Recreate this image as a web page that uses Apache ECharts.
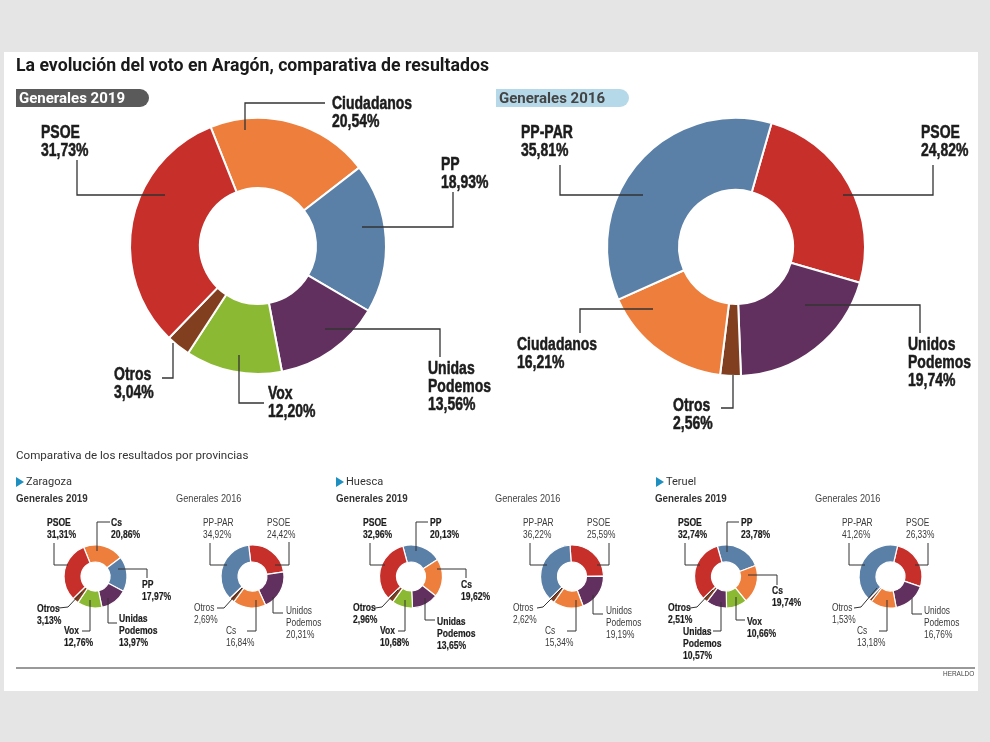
<!DOCTYPE html>
<html>
<head>
<meta charset="utf-8">
<style>
html, body { margin: 0; padding: 0; background: #e5e5e5; }
#main { width: 990px; height: 742px; }
</style>
<script src="https://cdn.jsdelivr.net/npm/echarts@6/dist/echarts.min.js"></script>
</head>
<body>
<div id="main"></div>
<script>
// datos, en el orden de las agujas del reloj
const names2019 = ['Ciudadanos', 'PP', 'Unidas\nPodemos', 'Vox', 'Otros', 'PSOE']
const values2019 = [20.54, 18.93, 13.56, 12.20, 3.04, 31.73]
const names2016 = ['PSOE', 'Unidos\nPodemos', 'Otros', 'Ciudadanos', 'PP-PAR']
const values2016 = [24.82, 19.74, 2.56, 16.21, 35.81]

const namesZar2019 = ['Cs', 'PP', 'Unidas\nPodemos', 'Vox', 'Otros', 'PSOE']
const valuesZar2019 = [20.86, 17.97, 13.97, 12.76, 3.13, 31.31]
const namesSmall2016 = ['PSOE', 'Unidos\nPodemos', 'Cs', 'Otros', 'PP-PAR']
const valuesZar2016 = [24.42, 20.31, 16.84, 2.69, 34.92]

const namesHue2019 = ['PP', 'Cs', 'Unidas\nPodemos', 'Vox', 'Otros', 'PSOE']
const valuesHue2019 = [20.13, 19.62, 13.65, 10.68, 2.96, 32.96]
const valuesHue2016 = [25.59, 19.19, 15.34, 2.62, 36.22]

const namesTer2019 = ['PP', 'Cs', 'Vox', 'Unidas\nPodemos', 'Otros', 'PSOE']
const valuesTer2019 = [23.78, 19.74, 10.66, 10.57, 2.51, 32.74]
const valuesTer2016 = [26.33, 16.76, 13.18, 1.53, 41.26]

const partyColors = {
    'PSOE': '#c72f2b', 'PP': '#5b80a8', 'PP-PAR': '#5b80a8', 'Ciudadanos': '#ee7e3c', 'Cs': '#ee7e3c',
    'Unidas\nPodemos': '#62305e', 'Unidos\nPodemos': '#62305e', 'Vox': '#8cb933', 'Otros': '#823f1f'
}

// cada tarta: centro, radios, angulo inicial, etiquetas [x,y] y lineas guia
const charts = [
    { names: names2019, values: values2019, c: [258, 246], r: [58, 128], start: 111.7, big: true, bold: true,
      labels: [[332, 95], [441, 156], [428, 360], [268, 385], [114, 366], [41, 124]],
      lines: [[[245, 130], [245, 103], [325, 103]], [[362, 227], [453, 227], [453, 192]], [[325, 329], [440, 329], [440, 357]],
              [[239, 355], [239, 403], [264, 403]], [[173, 343], [173, 378], [162, 378]], [[77, 160], [77, 195], [165, 195]]] },
    { names: names2016, values: values2016, c: [736, 247], r: [57, 129], start: 74, big: true, bold: true,
      labels: [[921, 124], [908, 336], [673, 397], [517, 336], [521, 124]],
      lines: [[[933, 165], [933, 195], [843, 195]], [[805, 305], [920, 305], [920, 333]], [[733, 375], [733, 408], [721, 408]],
              [[653, 309], [580, 309], [580, 333]], [[560, 165], [560, 195], [643, 195]]] },

    { names: namesZar2019, values: valuesZar2019, c: [95.5, 576.5], r: [14.5, 31.5], start: 112, bold: true,
      labels: [[111, 517], [142, 579], [119, 613], [64, 625], [37, 603], [47, 517]],
      lines: [[[97, 551], [97, 522], [110, 522]], [[118, 569], [147, 569], [147, 578]], [[108, 598], [108, 623], [117, 623]],
              [[90, 600], [90, 631], [82, 631]], [[82, 592], [68, 607], [59, 608]], [[54, 543], [54, 565], [68, 565]]] },
    { names: namesSmall2016, values: valuesZar2016, c: [252.5, 576.5], r: [14.5, 31.5], start: 97,
      labels: [[267, 517], [286, 605], [226, 625], [194, 602], [203, 517]],
      lines: [[[289, 542], [289, 565], [275, 565]], [[273, 597], [273, 613], [283, 613]], [[256, 600], [256, 631], [247, 631]],
              [[242, 588], [224, 608], [217, 608]], [[210, 543], [210, 565], [227, 565]]] },

    { names: namesHue2019, values: valuesHue2019, c: [411, 576.5], r: [14.5, 31.5], start: 105, bold: true,
      labels: [[430, 517], [461, 579], [437, 616], [380, 625], [353, 602], [363, 517]],
      lines: [[[416, 551], [416, 522], [428, 522]], [[437, 569], [466, 569], [466, 578]], [[425, 598], [425, 620], [435, 620]],
              [[405, 600], [405, 631], [398, 631]], [[398, 590], [382, 607], [375, 608]], [[370, 543], [370, 565], [385, 565]]] },
    { names: namesSmall2016, values: valuesHue2016, c: [572, 576.5], r: [14.5, 31.5], start: 93.6,
      labels: [[587, 517], [606, 605], [545, 625], [513, 602], [523, 517]],
      lines: [[[609, 543], [609, 565], [597, 565]], [[593, 595], [593, 614], [603, 614]], [[576, 600], [576, 631], [567, 631]],
              [[562, 588], [543, 607], [537, 608]], [[530, 543], [530, 565], [547, 565]]] },

    { names: namesTer2019, values: valuesTer2019, c: [726, 576.5], r: [14.5, 31.5], start: 106, bold: true,
      labels: [[741, 517], [772, 585], [747, 616], [683, 626], [668, 602], [678, 517]],
      lines: [[[727, 552], [727, 522], [739, 522]], [[748, 575], [777, 575], [777, 585]], [[736, 597], [736, 620], [745, 620]],
              [[721, 602], [721, 631], [713, 631]], [[713, 590], [697, 607], [690, 608]], [[685, 543], [685, 565], [700, 565]]] },
    { names: namesSmall2016, values: valuesTer2016, c: [890.5, 576.5], r: [14.5, 31.5], start: 77,
      labels: [[906, 517], [924, 605], [857, 625], [832, 602], [842, 517]],
      lines: [[[928, 543], [928, 565], [915, 565]], [[912, 598], [912, 614], [922, 614]], [[887, 600], [887, 631], [879, 631]],
              [[877, 588], [861, 607], [854, 608]], [[849, 543], [849, 565], [865, 565]]] }
]

const fmt = v => v.toFixed(2).replace('.', ',')
const sans = '"Liberation Sans", sans-serif'

const series = charts.map(ch => ({
    type: 'pie',
    center: ch.c,
    radius: ch.r,
    startAngle: ch.start,
    silent: true,
    itemStyle: { borderColor: '#fff', borderWidth: ch.big ? 2 : 1.2 },
    label: { show: false },
    labelLine: { show: false },
    data: ch.names.map((n, i) => ({ name: n, value: ch.values[i], itemStyle: { color: partyColors[n] } }))
}))

// no hay fuente estrecha instalada: se estrecha con scaleX
const text = (x, y, str, font, color, sx) => ({
    type: 'text', x, y, z: 10, silent: true, scaleX: sx || 1,
    style: { text: str, font, fill: color || '#222', verticalAlign: 'middle' }
})

const graphic = [
    { type: 'rect', z: -1, silent: true, shape: { x: 4, y: 52, width: 974, height: 639 }, style: { fill: '#fff' } },
    { type: 'rect', z: 1, silent: true, shape: { x: 16, y: 89, width: 133, height: 18, r: [0, 9, 9, 0] }, style: { fill: '#5a5a5a' } },
    { type: 'rect', z: 1, silent: true, shape: { x: 496, y: 89, width: 133, height: 18, r: [0, 9, 9, 0] }, style: { fill: '#b6d9ea' } },
    { type: 'line', z: 1, silent: true, shape: { x1: 16, y1: 668, x2: 975, y2: 668 }, style: { stroke: '#999', lineWidth: 2 } },
    { type: 'polygon', z: 1, silent: true, shape: { points: [[16, 477], [24, 482], [16, 487]] }, style: { fill: '#1d8fc0' } },
    { type: 'polygon', z: 1, silent: true, shape: { points: [[336, 477], [344, 482], [336, 487]] }, style: { fill: '#1d8fc0' } },
    { type: 'polygon', z: 1, silent: true, shape: { points: [[656, 477], [664, 482], [656, 487]] }, style: { fill: '#1d8fc0' } },
    text(16, 67, 'La evolución del voto en Aragón, comparativa de resultados', 'bold 17.7px Roboto', '#1a1a1a'),
    text(19, 99, 'Generales 2019', 'bold 15px Roboto', '#fff'),
    text(499, 99, 'Generales 2016', 'bold 15px Roboto', '#444'),
    text(16, 456, 'Comparativa de los resultados por provincias', '11.6px Roboto', '#333'),
    text(26, 482, 'Zaragoza', '11px Roboto', '#333'),
    text(346, 482, 'Huesca', '11px Roboto', '#333'),
    text(666, 482, 'Teruel', '11px Roboto', '#333'),
    text(16, 499, 'Generales 2019', 'bold 11.5px ' + sans, '#333', 0.85),
    text(176, 499, 'Generales 2016', '11.5px ' + sans, '#444', 0.8),
    text(336, 499, 'Generales 2019', 'bold 11.5px ' + sans, '#333', 0.85),
    text(495, 499, 'Generales 2016', '11.5px ' + sans, '#444', 0.8),
    text(655, 499, 'Generales 2019', 'bold 11.5px ' + sans, '#333', 0.85),
    text(815, 499, 'Generales 2016', '11.5px ' + sans, '#444', 0.8),
    text(943, 674, 'HERALDO', '7.5px ' + sans, '#444', 0.86)
]

charts.forEach(ch => {
    ch.lines.forEach(pts => graphic.push({
        type: 'polyline', z: 10, silent: true,
        shape: { points: pts },
        style: { stroke: '#333', lineWidth: ch.big ? 1.3 : 1, fill: 'none' }
    }))
    ch.names.forEach((n, i) => graphic.push({
        type: 'text', z: 11, silent: true,
        x: ch.labels[i][0], y: ch.labels[i][1],
        scaleX: ch.big ? 0.8 : (ch.bold ? 0.78 : 0.76),
        style: {
            text: n + '\n' + fmt(ch.values[i]) + '%',
            font: (ch.bold ? 'bold ' : '') + (ch.big ? 17.5 : 11) + 'px ' + sans,
            lineHeight: ch.big ? 18 : 12,
            fill: ch.bold ? '#1c1c1c' : '#3a3a3a',
            stroke: ch.bold ? '#1c1c1c' : 'none',
            lineWidth: ch.big ? 0.5 : 0.2,
            verticalAlign: 'top'
        }
    }))
})

const myChart = echarts.init(document.getElementById('main'))
myChart.setOption({
    animation: false,
    backgroundColor: '#e5e5e5',
    graphic: graphic,
    series: series
})
</script>
</body>
</html>
